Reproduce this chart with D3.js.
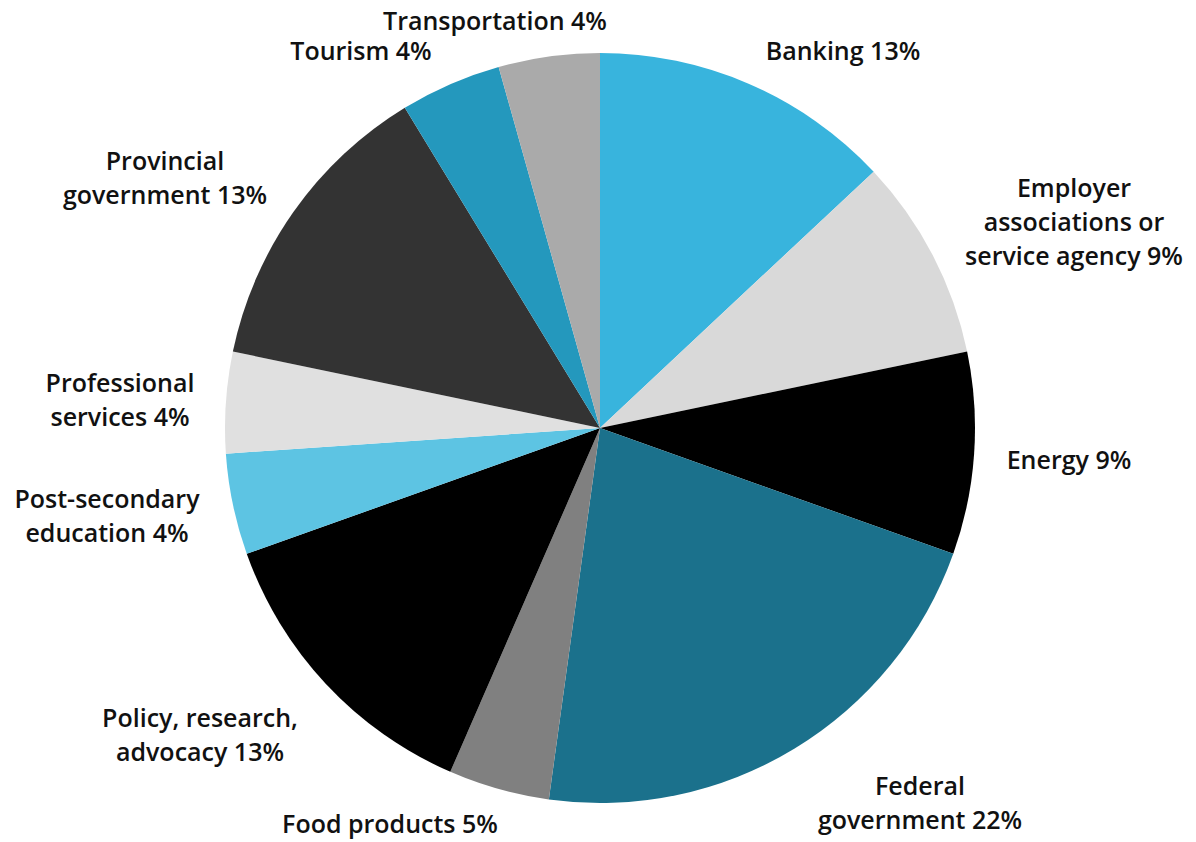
<!DOCTYPE html>
<html>
<head>
<meta charset="utf-8">
<script src="https://cdn.jsdelivr.net/npm/d3@7"></script>
<style>
  html, body { margin: 0; padding: 0; background: #fff; }
  svg { display: block; }
  .label { font-family: "Open Sans", sans-serif; font-weight: 600; font-size: 25px; fill: #111; }
</style>
</head>
<body>
<div id="chart"></div>
<script>
const width = 1196;
const height = 842;

// sectors, clockwise from 12 o'clock
const sectors = [
  "Banking",
  "Employer associations or service agency",
  "Energy",
  "Federal government",
  "Food products",
  "Policy, research, advocacy",
  "Post-secondary education",
  "Professional services",
  "Provincial government",
  "Tourism",
  "Transportation"
];

// slice shares (%)
const shares = [13.0, 8.7, 8.7, 21.7, 4.35, 13.0, 4.35, 4.35, 13.0, 4.35, 4.35];

// labels as printed
const labelLines = [
  ["Banking 13%"],
  ["Employer", "associations or", "service agency 9%"],
  ["Energy 9%"],
  ["Federal", "government 22%"],
  ["Food products 5%"],
  ["Policy, research,", "advocacy 13%"],
  ["Post-secondary", "education 4%"],
  ["Professional", "services 4%"],
  ["Provincial", "government 13%"],
  ["Tourism 4%"],
  ["Transportation 4%"]
];

const colors = [
  "#38b4dd", "#d9d9d9", "#000000", "#1b718c", "#808080", "#000000",
  "#5dc4e3", "#e0e0e0", "#333333", "#2498bd", "#aaaaaa"
];

// label anchor (centre of first baseline), layout only
const labelPos = [
  [843, 60], [1074, 197], [1069, 469], [920, 795], [390, 833], [200, 727],
  [107, 508], [120, 392], [165, 170], [361, 60], [495, 30]
];

const cx = 600, cy = 428, radius = 375;

const svg = d3.select("#chart")
  .append("svg")
  .attr("width", width)
  .attr("height", height);

const pie = d3.pie().sort(null).value(d => d);
const arc = d3.arc().innerRadius(0).outerRadius(radius);

const g = svg.append("g").attr("transform", `translate(${cx},${cy})`);

g.selectAll("path")
  .data(pie(shares))
  .enter()
  .append("path")
  .attr("d", arc)
  .attr("fill", (d, i) => colors[i]);

const labels = svg.selectAll("text.label")
  .data(sectors)
  .enter()
  .append("text")
  .attr("class", "label")
  .attr("text-anchor", "middle")
  .attr("x", (d, i) => labelPos[i][0])
  .attr("y", (d, i) => labelPos[i][1]);

labels.each(function(d, i) {
  const t = d3.select(this);
  labelLines[i].forEach((line, j) => {
    t.append("tspan")
      .attr("x", labelPos[i][0])
      .attr("dy", j === 0 ? 0 : 34)
      .text(line);
  });
});
</script>
</body>
</html>
